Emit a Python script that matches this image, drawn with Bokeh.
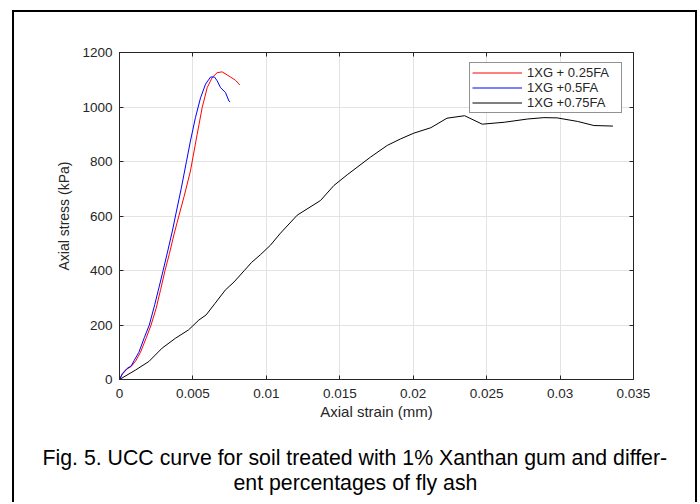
from bokeh.plotting import figure
from bokeh.layouts import column
from bokeh.models import (Range1d, FixedTicker, LinearAxis, CustomJSTickFormatter,
                          Legend, LegendItem, Title)
from bokeh.embed import file_html
from bokeh.resources import INLINE

# ---- data ----
red_strain = [0, 0.0002, 0.0005, 0.0008, 0.0011, 0.00143, 0.0018, 0.00215, 0.0025, 0.0028,
              0.0031, 0.0034, 0.0037, 0.00404, 0.0044, 0.00483, 0.00529, 0.00563, 0.00597,
              0.00631, 0.00665, 0.00699, 0.00756, 0.0079, 0.00819]
red_stress = [0, 20, 38, 48, 68, 100, 150, 200, 262, 330,
              400, 462, 530, 600, 672, 765, 900, 998, 1071,
              1108, 1126, 1129, 1110, 1098, 1081]

blue_strain = [0, 0.0002, 0.0005, 0.0008, 0.001, 0.00132, 0.0017, 0.00203, 0.0024, 0.0027,
               0.00297, 0.0033, 0.0036, 0.00381, 0.0042, 0.00456, 0.00483, 0.00517, 0.00552,
               0.00586, 0.0062, 0.00647, 0.00665, 0.00688, 0.00722, 0.00745, 0.00753]
blue_stress = [0, 22, 40, 50, 70, 100, 155, 200, 275, 340,
               400, 475, 545, 600, 700, 800, 875, 961, 1034,
               1084, 1110, 1110, 1096, 1071, 1053, 1022, 1019]

black_strain = [0, 0.0011, 0.002, 0.0029, 0.0038, 0.0047, 0.0054, 0.0059, 0.0065, 0.0072,
                0.0078, 0.0085, 0.009, 0.0096, 0.01028, 0.01096, 0.0121, 0.01369, 0.0146,
                0.0155, 0.01709, 0.01823, 0.01914, 0.02004, 0.0212, 0.0223, 0.0235, 0.0247,
                0.0262, 0.0278, 0.0289, 0.0298, 0.0312, 0.0323, 0.0336]
black_stress = [0, 35, 66, 115, 151, 182, 218, 237, 279, 328,
                358, 400, 430, 458, 493, 537, 603, 657, 712,
                751, 816, 859, 883, 904, 924, 959, 968, 937,
                944, 956, 961, 960, 947, 932, 930]

series_labels = ["1XG + 0.25FA", "1XG +0.5FA", "1XG +0.75FA"]
series_colors = ["#ff0000", "#0000ff", "#000000"]

x_ticks = [0, 0.005, 0.01, 0.015, 0.02, 0.025, 0.03, 0.035]
x_tick_labels = ["0", "0.005", "0.01", "0.015", "0.02", "0.025", "0.03", "0.035"]
y_ticks = [0, 200, 400, 600, 800, 1000, 1200]
y_tick_labels = ["0", "200", "400", "600", "800", "1000", "1200"]

x_label = "Axial strain (mm)"
y_label = "Axial stress (kPa)"
caption_1 = "Fig. 5. UCC curve for soil treated with 1% Xanthan gum and differ-"
caption_2 = "ent percentages of fly ash"

# ---- chart ----
AX = "#262626"
FONT = "Liberation Sans"

p = figure(width=681, height=413, output_backend="svg", toolbar_location=None,
           x_range=Range1d(0, 0.035), y_range=Range1d(0, 1200),
           min_border_left=105, min_border_right=62, min_border_top=40, min_border_bottom=46,
           background_fill_color="white", border_fill_color="white")

p.outline_line_color = AX
p.outline_line_width = 1

for ax, ticks, labels in ((p.xaxis[0], x_ticks, x_tick_labels), (p.yaxis[0], y_ticks, y_tick_labels)):
    ax.ticker = FixedTicker(ticks=ticks)
    ax.major_label_overrides = {float(t): l for t, l in zip(ticks, labels)}
    ax.major_tick_in = 4
    ax.major_tick_out = 0
    ax.minor_tick_line_color = None
    ax.axis_line_color = AX
    ax.major_tick_line_color = AX
    ax.major_label_text_color = AX
    ax.major_label_text_font = FONT
    ax.major_label_text_font_size = "13.5px"
    ax.axis_label_text_font = FONT
    ax.axis_label_text_font_style = "normal"
    ax.axis_label_text_color = AX

p.xaxis[0].axis_label = x_label
p.xaxis[0].axis_label_text_font_size = "15px"
p.xaxis[0].major_label_standoff = 9
p.xaxis[0].axis_label_standoff = 2
p.yaxis[0].axis_label = y_label
p.yaxis[0].axis_label_text_font_size = "14px"
p.yaxis[0].major_label_standoff = 7
p.yaxis[0].axis_label_standoff = 7

# box-style top/right axes with inward ticks only
for side, ticks in (("above", x_ticks), ("right", y_ticks)):
    a = LinearAxis(ticker=FixedTicker(ticks=ticks),
                   formatter=CustomJSTickFormatter(code="return ''"),
                   major_tick_in=4, major_tick_out=0, minor_tick_line_color=None,
                   axis_line_color=AX, major_tick_line_color=AX,
                   major_label_standoff=0, major_label_text_font_size="1px")
    p.add_layout(a, side)

p.xgrid.ticker = FixedTicker(ticks=x_ticks)
p.ygrid.ticker = FixedTicker(ticks=y_ticks)
p.xgrid.grid_line_color = "#e3e3e3"
p.ygrid.grid_line_color = "#e3e3e3"

r1 = p.line(red_strain, red_stress, line_color=series_colors[0], line_width=1)
r2 = p.line(blue_strain, blue_stress, line_color=series_colors[1], line_width=1)
r3 = p.line(black_strain, black_stress, line_color=series_colors[2], line_width=1)

legend = Legend(items=[LegendItem(label=series_labels[0], renderers=[r1]),
                       LegendItem(label=series_labels[1], renderers=[r2]),
                       LegendItem(label=series_labels[2], renderers=[r3])],
                location=(350, 266), padding=2, spacing=0, margin=0,
                glyph_width=50, glyph_height=15, label_height=15, label_width=92,
                label_standoff=5, label_text_font=FONT, label_text_font_size="13px",
                label_text_color=AX, border_line_color=AX, border_line_width=1,
                background_fill_color="white", background_fill_alpha=1.0)
p.add_layout(legend)

# ---- caption panel: line 1 sits just above a 1px frame, line 2 just below it ----
cap = figure(width=681, height=77, output_backend="svg", toolbar_location=None,
             x_range=Range1d(0, 1), y_range=Range1d(0, 1),
             x_axis_type=None, y_axis_type=None,
             min_border_left=105, min_border_right=62, min_border_top=44, min_border_bottom=32,
             background_fill_color="white", border_fill_color="white")
cap.outline_line_color = None
cap.grid.visible = False
cap.add_layout(Title(text=caption_1, align="left", offset=-77, standoff=0,
                     vertical_align="bottom",
                     text_font=FONT, text_font_size="21.3px", text_font_style="normal",
                     text_color="black"), "above")
cap.add_layout(Title(text=caption_2, align="left", offset=114, standoff=0,
                     vertical_align="top",
                     text_font=FONT, text_font_size="21.3px", text_font_style="normal",
                     text_color="black"), "below")

layout = column(p, cap, spacing=0,
                styles={"position": "relative", "left": "12px", "top": "10px",
                        "border-left": "2px solid black", "border-top": "2px solid black",
                        "border-right": "2px solid black"})

open("out.html", "w").write(file_html(layout, INLINE))
